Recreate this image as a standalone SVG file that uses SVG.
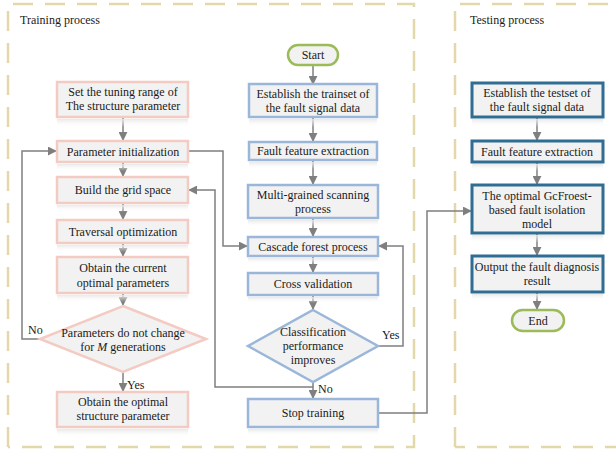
<svg xmlns="http://www.w3.org/2000/svg" width="616" height="453" viewBox="0 0 616 453" font-family="Liberation Serif" font-size="12">
<defs>
<marker id="ah" viewBox="0 0 10 10" refX="9" refY="5" markerWidth="9" markerHeight="9" markerUnits="userSpaceOnUse" orient="auto">
<path d="M0,0 L10,5 L0,10 z" fill="#7f7f7f"/>
</marker>
<linearGradient id="refl" x1="0" y1="0" x2="0" y2="1">
<stop offset="0" stop-color="#e6e6e6" stop-opacity="0.9"/>
<stop offset="1" stop-color="#ffffff" stop-opacity="0"/>
</linearGradient>
</defs>
<style>
text{font-family:"Liberation Serif",serif;font-size:12px;fill:#1a1a1a;text-anchor:middle}
.lbl{text-anchor:start}
.frame{fill:none;stroke:#e2d8aa;stroke-width:2.5;stroke-dasharray:20 12}
.pink{fill:#f2f2f2;stroke:#f3cbc3;stroke-width:2.5}
.blue{fill:#f2f2f2;stroke:#9ab7d9;stroke-width:2.5}
.dark{fill:#f2f2f2;stroke:#2f6d92;stroke-width:3}
.term{fill:#f2f2f2;stroke:#9bbb59;stroke-width:2.5}
.refl{fill:url(#refl)}
.c{fill:none;stroke:#7f7f7f;stroke-width:1.5}
.a{marker-end:url(#ah)}
</style>

<g id="frames">
<path class="frame" d="M8,447 V4 H414 V447 H8"/>
<path class="frame" d="M455,447 V4 H625 M625,447 H455"/>
<text class="lbl" x="20" y="24">Training process</text>
<text class="lbl" x="470" y="24">Testing process</text>
</g>

<g id="connectors">
<line class="c a" x1="123" y1="118" x2="123" y2="140"/>
<line class="c a" x1="123" y1="163" x2="123" y2="176"/>
<line class="c a" x1="123" y1="204" x2="123" y2="219"/>
<line class="c a" x1="123" y1="244" x2="123" y2="256"/>
<line class="c a" x1="123" y1="294" x2="123" y2="305"/>
<line class="c a" x1="123" y1="372" x2="123" y2="391"/>
<polyline class="c a" points="40,339 22,339 22,151 56,151"/>
<polyline class="c a" points="188,151 223,151 223,246 247,246"/>
<polyline class="c a" points="313,387 215,387 215,190 189,190"/>
<line class="c a" x1="313" y1="66" x2="313" y2="84"/>
<line class="c a" x1="313" y1="118" x2="313" y2="141"/>
<line class="c a" x1="313" y1="161" x2="313" y2="184"/>
<line class="c a" x1="313" y1="219" x2="313" y2="236"/>
<line class="c a" x1="313" y1="257" x2="313" y2="272"/>
<line class="c a" x1="313" y1="296" x2="313" y2="309"/>
<line class="c a" x1="313" y1="382" x2="313" y2="398"/>
<polyline class="c a" points="378,346 403,346 403,246 379,246"/>
<polyline class="c a" points="378,413 427,413 427,211 471,211"/>
<line class="c a" x1="537" y1="118" x2="537" y2="140"/>
<line class="c a" x1="537" y1="163" x2="537" y2="184"/>
<line class="c a" x1="537" y1="234" x2="537" y2="255"/>
<line class="c a" x1="537" y1="293" x2="537" y2="309"/>
<text class="lbl" x="28" y="334">No</text>
<text class="lbl" x="127" y="389">Yes</text>
<text class="lbl" x="382" y="339">Yes</text>
<text class="lbl" x="318" y="393">No</text>
</g>

<g id="n_tuning">
<rect class="refl" x="57" y="119" width="131" height="8"/>
<rect class="pink" x="57" y="82" width="131" height="35"/>
<text x="123" y="96">Set the tuning range of</text>
<text x="123" y="110">The structure parameter</text>
</g>
<g id="n_init">
<rect class="refl" x="57" y="164" width="131" height="7"/>
<rect class="pink" x="57" y="141" width="131" height="21"/>
<text x="123" y="155.5">Parameter initialization</text>
</g>
<g id="n_grid">
<rect class="refl" x="57" y="205" width="131" height="7"/>
<rect class="pink" x="57" y="177" width="131" height="26"/>
<text x="123" y="194">Build the grid space</text>
</g>
<g id="n_traversal">
<rect class="refl" x="57" y="245" width="131" height="7"/>
<rect class="pink" x="57" y="220" width="131" height="23"/>
<text x="123" y="236">Traversal optimization</text>
</g>
<g id="n_current">
<rect class="refl" x="57" y="295" width="131" height="7"/>
<rect class="pink" x="57" y="257" width="131" height="36"/>
<text x="123" y="272">Obtain the current</text>
<text x="123" y="287">optimal parameters</text>
</g>
<g id="n_dec1">
<polygon class="pink" points="123,306 206,339 123,372 40,339"/>
<text x="123" y="337">Parameters do not change</text>
<text x="123" y="351">for <tspan font-style="italic">M</tspan> generations</text>
</g>
<g id="n_optimal">
<rect class="refl" x="57" y="429" width="131" height="8"/>
<rect class="pink" x="57" y="392" width="131" height="35"/>
<text x="123" y="406">Obtain the optimal</text>
<text x="123" y="420">structure parameter</text>
</g>

<g id="n_start">
<rect class="term" x="288" y="45" width="50" height="20" rx="10"/>
<text x="313" y="59">Start</text>
</g>
<g id="n_trainset">
<rect class="refl" x="249" y="119" width="128" height="8"/>
<rect class="blue" x="249" y="84" width="128" height="33"/>
<text x="313" y="98">Establish the trainset of</text>
<text x="313" y="112">the fault signal data</text>
</g>
<g id="n_feat1">
<rect class="refl" x="249" y="162" width="128" height="7"/>
<rect class="blue" x="249" y="142" width="128" height="18"/>
<text x="313" y="155">Fault feature extraction</text>
</g>
<g id="n_mgs">
<rect class="refl" x="248" y="220" width="130" height="7"/>
<rect class="blue" x="248" y="185" width="130" height="33"/>
<text x="313" y="199">Multi-grained scanning</text>
<text x="313" y="213">process</text>
</g>
<g id="n_cascade">
<rect class="refl" x="248" y="258" width="130" height="6"/>
<rect class="blue" x="248" y="237" width="130" height="19"/>
<text x="313" y="250.5">Cascade forest process</text>
</g>
<g id="n_cv">
<rect class="refl" x="248" y="297" width="130" height="6"/>
<rect class="blue" x="248" y="273" width="130" height="22"/>
<text x="313" y="288">Cross validation</text>
</g>
<g id="n_dec2">
<polygon class="blue" points="313,310 378,346 313,382 248,346"/>
<text x="313" y="336">Classification</text>
<text x="313" y="350">performance</text>
<text x="313" y="364">improves</text>
</g>
<g id="n_stop">
<rect class="refl" x="248" y="429" width="130" height="7"/>
<rect class="blue" x="248" y="399" width="130" height="28"/>
<text x="313" y="417">Stop training</text>
</g>

<g id="n_testset">
<rect class="refl" x="472" y="119" width="131" height="8"/>
<rect class="dark" x="472" y="83" width="131" height="34"/>
<text x="537" y="97">Establish the testset of</text>
<text x="537" y="111">the fault signal data</text>
</g>
<g id="n_feat2">
<rect class="refl" x="472" y="164" width="131" height="7"/>
<rect class="dark" x="472" y="141" width="131" height="21"/>
<text x="537" y="155.5">Fault feature extraction</text>
</g>
<g id="n_model">
<rect class="refl" x="472" y="235" width="131" height="8"/>
<rect class="dark" x="472" y="185" width="131" height="48"/>
<text x="537" y="200">The optimal GcFroest-</text>
<text x="537" y="214">based fault isolation</text>
<text x="537" y="228">model</text>
</g>
<g id="n_output">
<rect class="refl" x="472" y="294" width="131" height="7"/>
<rect class="dark" x="472" y="256" width="131" height="36"/>
<text x="537" y="271">Output the fault diagnosis</text>
<text x="537" y="285">result</text>
</g>
<g id="n_end">
<rect class="term" x="512" y="310" width="52" height="21" rx="10.5"/>
<text x="538" y="324.5">End</text>
</g>
</svg>
